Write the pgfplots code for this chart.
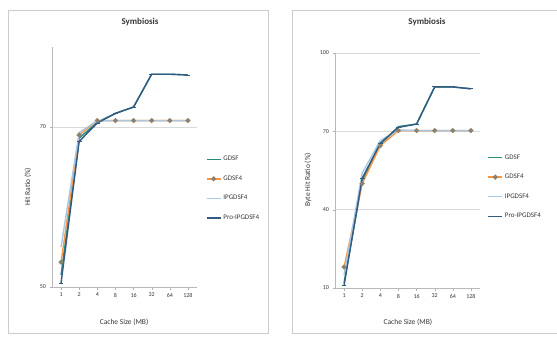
\documentclass[border=0pt]{standalone}
\usepackage{pgfplots}
\pgfplotsset{compat=1.18}
\usepackage{fontspec}
\setmainfont{Carlito}
\definecolor{cgdsf}{RGB}{40,140,125}
\definecolor{cgdsffour}{RGB}{247,150,70}
\definecolor{cgdsfmark}{RGB}{140,130,110}
\definecolor{cipg}{RGB}{170,200,228}
\definecolor{cpro}{RGB}{50,90,130}
\definecolor{ctext}{RGB}{55,55,55}
\pgfplotsset{
  excel/.style={
    scale only axis,
    anchor=south west,
    xmin=-0.5, xmax=7.5,
    xtick={0,...,7},
    xticklabels={1,2,4,8,16,32,64,128},
    axis x line*=bottom, axis y line*=left,
    axis line style={-, gray!55},
    tick style={gray!60},
    major tick length=2.5pt,
    tick align=outside,
    ymajorgrids, grid style={gray!30, line width=0.7pt},
    ticklabel style={font=\fontsize{6}{7}\selectfont, text=ctext},
    label style={font=\fontsize{7.5}{8.5}\selectfont, text=ctext},
    title style={font=\bfseries\fontsize{9}{10}\selectfont, text=ctext, anchor=center},
    every axis plot/.append style={line width=1.4pt},
    legend style={draw=none, fill=none, font=\fontsize{7}{8}\selectfont, text=ctext, row sep=9.5pt, anchor=west,
      /tikz/every even column/.append style={column sep=1pt}},
    legend cell align=left,
    legend image code/.code={\draw[mark repeat=2,mark phase=2,#1] plot coordinates {(0pt,0pt) (7pt,0pt) (14pt,0pt)};},
    /pgf/number format/assume math mode=true,
  }
}
\begin{document}
\begin{tikzpicture}
\useasboundingbox (0pt,0pt) rectangle (557pt,338pt);
\clip (0pt,0pt) rectangle (557pt,338pt);
\draw[gray!40, line width=0.8pt] (8pt,5pt) rectangle (268pt,328pt);
\draw[gray!40, line width=0.8pt] (292pt,5pt) rectangle (570pt,328pt);
\begin{axis}[excel,
  at={(52pt,51pt)}, width=145pt, height=240pt,
  ymin=50, ymax=80, ytick={50,70},
  title={Symbiosis}, title style={at={(0.607,1.079)}},
  xlabel={Cache Size (MB)}, xlabel style={at={(0.497,-0.146)}, anchor=center},
  ylabel={Hit Ratio (\%)}, ylabel style={at={(-0.166,0.417)}, anchor=center},
  legend style={at={(1.04,0.41)}},
]
\addplot[cgdsf] coordinates {(0,51.5) (1,68.6) (2,70.6) (3,71.7) (4,72.5) (5,76.6) (6,76.6) (7,76.5)};
\addplot[cgdsffour, mark=*, mark size=1.7pt, mark options={fill=cgdsfmark, draw=cgdsfmark}] coordinates {(0,53.1) (1,69.0) (2,70.8) (3,70.8) (4,70.8) (5,70.8) (6,70.8) (7,70.8)};
\addplot[cipg] coordinates {(0,55.0) (1,69.3) (2,70.8) (3,70.8) (4,70.8) (5,70.8) (6,70.8) (7,70.8)};
\addplot[cpro, mark=-, mark size=2.4pt, mark options={line width=0.9pt}] coordinates {(0,50.5) (1,68.2) (2,70.5) (3,71.7) (4,72.5) (5,76.6) (6,76.6) (7,76.5)};
\legend{GDSF, GDSF4, IPGDSF4, Pro-IPGDSF4}
\end{axis}
\begin{axis}[excel,
  at={(335pt,50pt)}, width=145pt, height=235pt,
  ymin=10, ymax=100, ytick={10,40,70,100},
  title={Symbiosis}, title style={at={(0.634,1.106)}},
  xlabel={Cache Size (MB)}, xlabel style={at={(0.503,-0.145)}, anchor=center},
  ylabel={Byte Hit Ratio (\%)}, ylabel style={at={(-0.186,0.46)}, anchor=center},
  legend style={at={(1.03,0.43)}},
]
\addplot[cgdsf] coordinates {(0,12.0) (1,51.0) (2,65.0) (3,71.8) (4,72.8) (5,87.0) (6,87.0) (7,86.3)};
\addplot[cgdsffour, mark=*, mark size=1.7pt, mark options={fill=cgdsfmark, draw=cgdsfmark}] coordinates {(0,18.0) (1,50.0) (2,64.5) (3,70.3) (4,70.3) (5,70.3) (6,70.3) (7,70.3)};
\addplot[cipg] coordinates {(0,15.0) (1,54.0) (2,66.5) (3,70.5) (4,70.3) (5,70.3) (6,70.3) (7,70.3)};
\addplot[cpro, mark=-, mark size=2.4pt, mark options={line width=0.9pt}] coordinates {(0,11.0) (1,52.0) (2,65.5) (3,71.5) (4,72.8) (5,87.0) (6,87.0) (7,86.3)};
\legend{GDSF, GDSF4, IPGDSF4, Pro-IPGDSF4}
\end{axis}
\end{tikzpicture}
\end{document}
